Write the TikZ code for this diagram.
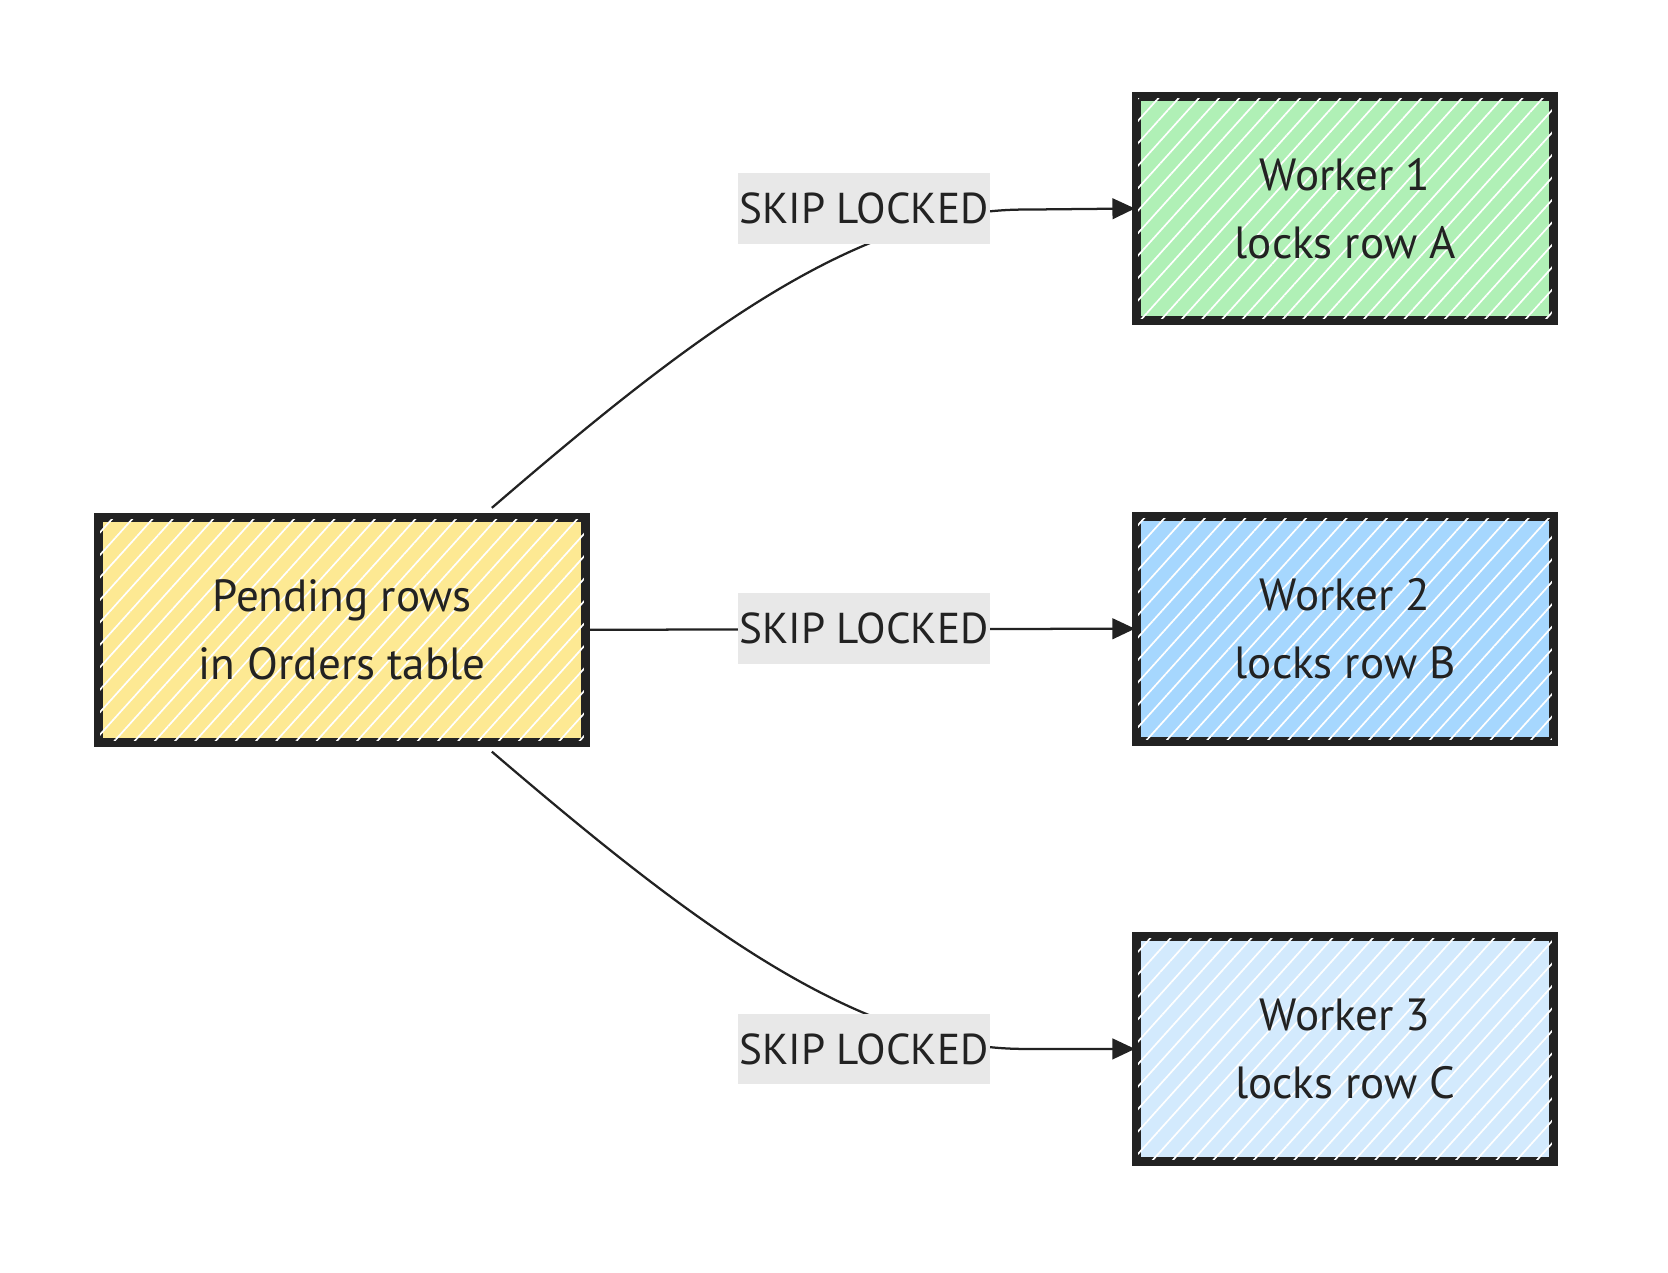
\documentclass[tikz,border=0pt]{standalone}
\usepackage{fontspec}
\setmainfont{PT Sans}
\usetikzlibrary{patterns.meta,arrows.meta}
\definecolor{cy}{HTML}{FDE993}
\definecolor{cg}{HTML}{B0F0B6}
\definecolor{cb}{HTML}{A6D7FE}
\definecolor{cl}{HTML}{D3EAFD}
\definecolor{ink}{HTML}{222222}
\begin{document}
\begin{tikzpicture}[x=0.02cm,y=-0.02cm,
 box/.style={draw=ink,line width=3.2pt,minimum height=4.15cm,align=center,text=ink},
 hatch/.style={pattern={Lines[angle=48,distance=8pt,line width=0.9pt]},pattern color=white},
 lab/.style={fill=black!9,inner xsep=1pt,minimum height=1.32cm,font=\fontsize{23}{26}\selectfont,text=ink},
 edge/.style={draw=ink,line width=1.2pt,-{Triangle[length=12pt,width=11pt]}}]
\useasboundingbox (0,0) rectangle (1560,1190);
\foreach \n/\x/\y/\c/\w/\t in {p/320/589/cy/9.05/{Pending rows\\in Orders table},w1/1258/195/cg/7.75/{Worker 1\\locks row A},w2/1258/588/cb/7.75/{Worker 2\\locks row B},w3/1258/981/cl/7.75/{Worker 3\\locks row C}}{
 \node[box,fill=\c,minimum width=\w cm] (\n) at (\x,\y) {};
 \fill[hatch] (\n.south west) rectangle (\n.north east);
 \draw[ink,line width=3.2pt] (\n.south west) rectangle (\n.north east);
 \node[align=center,font=\fontsize{24}{36}\selectfont,text=ink] at (\n) {\t};
}
\coordinate (s1) at (460,475);
\coordinate (s3) at (460,703);
\draw[edge] (s1) .. controls (640,320) and (800,195) .. (960,196) -- (w1.west);
\draw[edge] (p.east) -- (w2.west);
\draw[edge] (s3) .. controls (640,857) and (800,982) .. (960,981) -- (w3.west);
\node[lab] (l1) at (808,195) {SKIP LOCKED};
\node[lab] (l2) at (808,588) {SKIP LOCKED};
\node[lab] (l3) at (808,981) {SKIP LOCKED};
\end{tikzpicture}
\end{document}
